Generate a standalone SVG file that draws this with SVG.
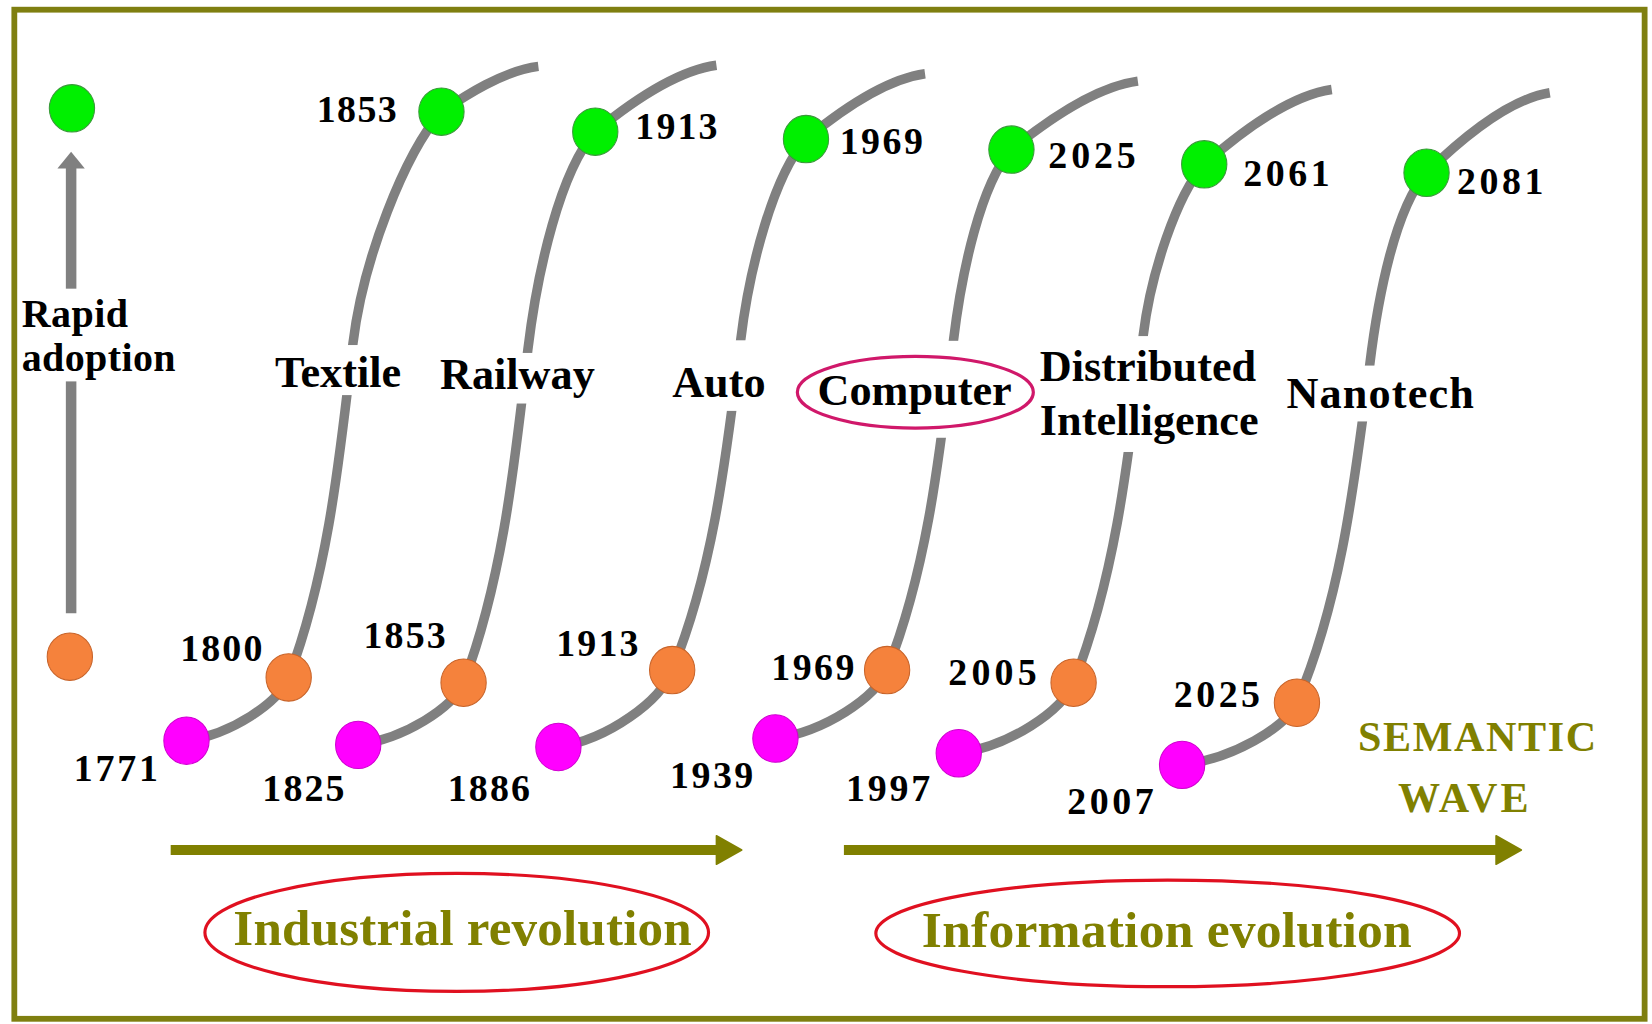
<svg xmlns="http://www.w3.org/2000/svg" width="1652" height="1024" viewBox="0 0 1652 1024">
<defs>
<style>
.curve{fill:none;stroke:#808080;stroke-width:9;stroke-linecap:butt}
.g{fill:#00f000;stroke:#3a9a3a;stroke-width:1}
.o{fill:#f5823c;stroke:#c8642a;stroke-width:1}
.m{fill:#ff00ff;stroke:#d000d0;stroke-width:1}
.num{font-family:"Liberation Serif","Times New Roman",serif;font-weight:bold;font-size:36px;fill:#000}
.lbl{font-family:"Liberation Serif","Times New Roman",serif;font-weight:bold;font-size:42px;fill:#000}
.olv{font-family:"Liberation Serif","Times New Roman",serif;font-weight:bold;fill:#808000}
.bg{fill:#fff;stroke:none}
</style>
<marker id="grayHead" markerUnits="userSpaceOnUse" markerWidth="18" markerHeight="28" refX="1" refY="13" orient="auto" overflow="visible">
<path d="M0,0 L16,13 L0,26 z" fill="#808080"/>
</marker>
<marker id="oliveHead" markerUnits="userSpaceOnUse" markerWidth="26" markerHeight="28" refX="1" refY="13.5" orient="auto" overflow="visible">
<path d="M0,0 L24,13.5 L0,27 z" fill="#808000" stroke="#808000" stroke-width="1.5" stroke-linejoin="round"/>
</marker>
</defs>
<rect width="1652" height="1024" fill="#fff"/>
<g transform="scale(1.05357)">
<rect id="frame" x="13.6" y="9.2" width="1547.4" height="957.8" fill="none" stroke="#7f7f10" stroke-width="5.5"/>

<g id="connectors">
<path class="curve" d="M177,703 C219.7,697 264.3,667 274,643 C311.8,543.1 322.8,430.6 335,326 C344.6,246.1 384,146.4 419,106 C441.1,91.2 477.9,67 511,63"/>
<path class="curve" d="M340,707 C384,701.1 430,671.6 440,648 C477.8,548.5 488.8,436.3 501,332 C510.1,256.4 531.9,162.3 565,125 C592.6,102.3 638.6,67.7 680,62"/>
<path class="curve" d="M530,709 C577.5,701.7 627.2,665.2 638,636 C678.3,537.4 690,426.3 703,323 C711.4,253.3 734.4,166.4 765,132 C792.1,109.7 837.3,75.6 878,70"/>
<path class="curve" d="M736,701 C782.6,694.5 831.4,662 842,636 C881.1,537.4 892.4,426.3 905,323 C913,256.9 931,174.6 960,142 C988.8,118.6 1036.8,82.9 1080,77"/>
<path class="curve" d="M910,715 C958,708.3 1008.1,674.8 1019,648 C1059.9,544.4 1071.8,427.6 1085,319 C1092.2,259.5 1116.9,185.3 1143,156 C1172,130.4 1220.4,91.4 1264,85"/>
<path class="curve" d="M1122,726 C1170,720.1 1220.1,690.6 1231,667 C1273.8,566.2 1286.2,452.6 1300,347 C1308.1,280.2 1324.7,196.9 1354,164 C1382.1,136.6 1428.9,94.8 1471,88"/>
<line x1="67.5" y1="582" x2="67.5" y2="159" stroke="#808080" stroke-width="10" marker-end="url(#grayHead)"/>
<line x1="162" y1="806.8" x2="681" y2="806.8" stroke="#808000" stroke-width="9.5" marker-end="url(#oliveHead)"/>
<line x1="801" y1="806.8" x2="1421" y2="806.8" stroke="#808000" stroke-width="9.5" marker-end="url(#oliveHead)"/>
</g>

<g id="label-backgrounds">
<rect class="bg" x="17" y="274" width="153" height="88"/>
<rect class="bg" x="256" y="327.5" width="132" height="47.5"/>
<rect class="bg" x="412" y="335" width="160" height="48"/>
<rect class="bg" x="632" y="323" width="100" height="67"/>
<rect class="bg" x="750" y="323.5" width="236" height="92"/>
<rect class="bg" x="983" y="319" width="220" height="110"/>
<rect class="bg" x="1216" y="347" width="190" height="53"/>
</g>

<g id="node-rapid-adoption">
<ellipse class="g" cx="68.3" cy="102.8" rx="21.5" ry="22.5"/>
<ellipse class="o" cx="66.3" cy="623.3" rx="21.5" ry="22.5"/>
<text class="lbl" style="font-size:38px" x="20.6" y="310" textLength="101">Rapid</text>
<text class="lbl" style="font-size:38px" x="20.6" y="352" textLength="146">adoption</text>
</g>

<g id="node-textile">
<ellipse class="m" cx="177" cy="703" rx="21.5" ry="22.5"/>
<ellipse class="o" cx="274" cy="643" rx="21.5" ry="22.5"/>
<ellipse class="g" cx="419" cy="106" rx="21.5" ry="22.5"/>
<text class="lbl" x="261" y="367">Textile</text>
<text class="num" x="70" y="741" textLength="80">1771</text>
<text class="num" x="171" y="627" textLength="78">1800</text>
<text class="num" x="300.6" y="116" textLength="76">1853</text>
</g>

<g id="node-railway">
<ellipse class="m" cx="340" cy="707" rx="21.5" ry="22.5"/>
<ellipse class="o" cx="440" cy="648" rx="21.5" ry="22.5"/>
<ellipse class="g" cx="565" cy="125" rx="21.5" ry="22.5"/>
<text class="lbl" x="417.6" y="369">Railway</text>
<text class="num" x="249" y="760" textLength="78">1825</text>
<text class="num" x="345" y="615" textLength="78">1853</text>
<text class="num" x="603" y="132" textLength="78">1913</text>
</g>

<g id="node-auto">
<ellipse class="m" cx="530" cy="709" rx="21.5" ry="22.5"/>
<ellipse class="o" cx="638" cy="636" rx="21.5" ry="22.5"/>
<ellipse class="g" cx="765" cy="132" rx="21.5" ry="22.5"/>
<text class="lbl" x="638" y="377">Auto</text>
<text class="num" x="425" y="760" textLength="78">1886</text>
<text class="num" x="528" y="623" textLength="78">1913</text>
<text class="num" x="797" y="146" textLength="79">1969</text>
</g>

<g id="node-computer">
<ellipse class="m" cx="736" cy="701" rx="21.5" ry="22.5"/>
<ellipse class="o" cx="842" cy="636" rx="21.5" ry="22.5"/>
<ellipse class="g" cx="960" cy="142" rx="21.5" ry="22.5"/>
<ellipse cx="868.8" cy="372.3" rx="112" ry="34" fill="none" stroke="#d0186a" stroke-width="3"/>
<text class="lbl" x="776" y="384">Computer</text>
<text class="num" x="636" y="748" textLength="79">1939</text>
<text class="num" x="732" y="645" textLength="79">1969</text>
<text class="num" x="995" y="159" textLength="83">2025</text>
</g>

<g id="node-distributed-intelligence">
<ellipse class="m" cx="910" cy="715" rx="21.5" ry="22.5"/>
<ellipse class="o" cx="1019" cy="648" rx="21.5" ry="22.5"/>
<ellipse class="g" cx="1143" cy="156" rx="21.5" ry="22.5"/>
<text class="lbl" x="987" y="362">Distributed</text>
<text class="lbl" x="987" y="413">Intelligence</text>
<text class="num" x="803" y="760" textLength="80">1997</text>
<text class="num" x="900" y="650" textLength="84">2005</text>
<text class="num" x="1180" y="177" textLength="82">2061</text>
</g>

<g id="node-nanotech">
<ellipse class="m" cx="1122" cy="726" rx="21.5" ry="22.5"/>
<ellipse class="o" cx="1231" cy="667" rx="21.5" ry="22.5"/>
<ellipse class="g" cx="1354" cy="164" rx="21.5" ry="22.5"/>
<text class="lbl" x="1221" y="387" textLength="178">Nanotech</text>
<text class="num" x="1013" y="773" textLength="82">2007</text>
<text class="num" x="1114" y="671" textLength="82">2025</text>
<text class="num" x="1383" y="184" textLength="82">2081</text>
</g>

<g id="node-semantic-wave">
<text class="olv" style="font-size:40px" x="1289" y="713" textLength="226">SEMANTIC</text>
<text class="olv" style="font-size:40px" x="1327" y="771" textLength="124">WAVE</text>
</g>

<g id="node-industrial-revolution">
<ellipse cx="433.5" cy="885" rx="239" ry="56" fill="none" stroke="#e01020" stroke-width="3"/>
<text class="olv" style="font-size:48.5px" x="221.5" y="897" textLength="435">Industrial revolution</text>
</g>

<g id="node-information-evolution">
<ellipse cx="1108.3" cy="885.9" rx="277" ry="50.6" fill="none" stroke="#e01020" stroke-width="3"/>
<text class="olv" style="font-size:49px" x="875" y="898.5" textLength="465">Information evolution</text>
</g>
</g>
</svg>
